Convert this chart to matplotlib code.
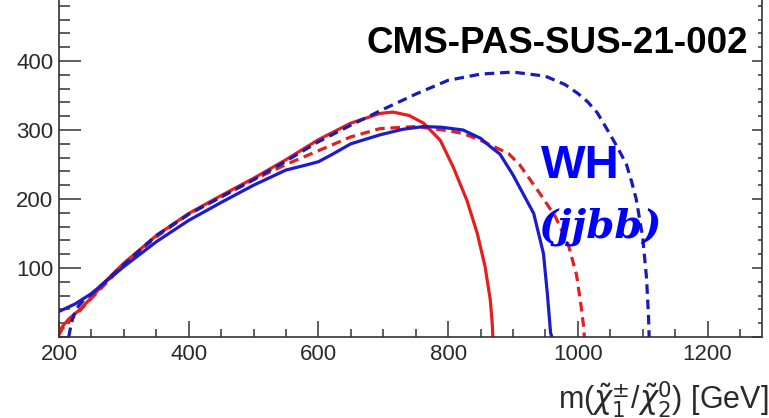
import matplotlib
matplotlib.use("Agg")
import matplotlib.pyplot as plt
from matplotlib.ticker import MultipleLocator

plt.rcParams['font.family'] = ['Liberation Sans', 'DejaVu Sans']
plt.rcParams['mathtext.fontset'] = 'dejavusans'

# contour points, m(chargino/neutralino) vs m(LSP)
red_solid_x = [200, 205, 215, 230, 250, 275, 300, 350, 400, 450, 500, 550, 600, 650,
               695, 715, 740, 762, 788, 808, 829, 845, 857, 865, 868, 869]
red_solid_y = [5, 15, 26, 38, 57, 84, 107, 147, 179, 205, 230, 257, 286, 310,
               324, 326, 321, 310, 285, 246, 198, 150, 102, 54, 20, 0]

red_dash_x = [200, 205, 215, 230, 250, 300, 350, 400, 450, 500, 550, 600, 650, 695,
              750, 800, 823, 850, 893, 910, 940, 965, 985, 998, 1005, 1009, 1010]
red_dash_y = [3, 12, 22, 36, 56, 105, 145, 178, 203, 228, 250, 270, 290, 302,
              305, 299, 295, 285, 266, 250, 210, 175, 135, 90, 45, 15, 0]

blue_solid_x = [200, 225, 250, 300, 350, 400, 450, 500, 550, 580, 600, 620, 650, 695,
                730, 762, 790, 823, 850, 865, 880, 900, 932, 947, 953, 958, 960]
blue_solid_y = [37, 48, 63, 102, 138, 169, 195, 220, 242, 249, 254, 264, 280, 293,
                301, 305, 304, 300, 288, 276, 265, 235, 179, 121, 63, 6, 0]

blue_dash_x = [215, 218, 222, 230, 240, 250, 300, 350, 400, 450, 500, 550, 600, 650,
               700, 750, 800, 850, 900, 950, 980, 1000, 1015, 1030, 1042, 1055, 1065,
               1075, 1083, 1090, 1100, 1106, 1109, 1110]
blue_dash_y = [0, 15, 30, 45, 55, 62, 105, 147, 178, 203, 228, 255, 283, 307,
               330, 352, 372, 381, 384, 378, 366, 353, 341, 325, 306, 285, 268,
               250, 225, 200, 145, 85, 30, 0]

W, H = 769, 418
fig = plt.figure(figsize=(W / 100, H / 100), dpi=100)
# axes frame in pixel terms: x 59..762, y 337 (0) up past the top edge (500)
ax = fig.add_axes([59 / W, (H - 337) / H, (762 - 59) / W, (337 + 8) / H])

red = '#e3201e'
blue = '#1c1cc8'
ax.plot(red_solid_x, red_solid_y, color=red, lw=2.3)
ax.plot(red_dash_x, red_dash_y, color=red, lw=2.3, dashes=(3, 1.8))
ax.plot(blue_solid_x, blue_solid_y, color=blue, lw=2.3)
ax.plot(blue_dash_x, blue_dash_y, color='#1a1ab4', lw=2.3, dashes=(3, 1.8))

ax.set_xlim(200, 1284)
ax.set_ylim(0, 500)
ax.xaxis.set_major_locator(MultipleLocator(200))
ax.xaxis.set_minor_locator(MultipleLocator(50))
ax.yaxis.set_major_locator(MultipleLocator(100))
ax.yaxis.set_minor_locator(MultipleLocator(20))
ax.set_yticks([100, 200, 300, 400, 500])

frame = '#333333'
for s in ax.spines.values():
    s.set_color(frame)
    s.set_linewidth(1.2)
ax.tick_params(axis='both', which='both', direction='in', colors=frame,
               labelcolor='#2a2a2a', labelsize=16, width=1.1, right=False, top=False)
ax.tick_params(axis='y', which='major', length=16, pad=4)
ax.tick_params(axis='y', which='minor', length=8)
ax.tick_params(axis='x', which='major', length=11.5, pad=5)
ax.tick_params(axis='x', which='minor', length=5.5)

# right side ticks are shorter
ax2 = ax.twinx()
ax2.set_ylim(0, 500)
ax2.yaxis.set_major_locator(MultipleLocator(100))
ax2.yaxis.set_minor_locator(MultipleLocator(20))
ax2.tick_params(axis='y', which='both', direction='in', colors=frame,
                labelright=False, width=1.1)
ax2.tick_params(axis='y', which='major', length=7.5)
ax2.tick_params(axis='y', which='minor', length=3)
for s in ax2.spines.values():
    s.set_visible(False)

fig.text(748 / W, 1 - 53 / H, 'CMS-PAS-SUS-21-002', ha='right', va='baseline',
         fontsize=26.5, fontweight='bold', color='black')
fig.text(541 / W, 1 - 178 / H, 'WH', ha='left', va='baseline',
         fontsize=34, fontweight='bold', color='#0000ff')
fig.text(539 / W, 1 - 238 / H, '(jjbb)', ha='left', va='baseline',
         fontsize=29, fontweight='bold', fontstyle='italic', color='#0000ff',
         family='DejaVu Serif')

fig.text(768 / W, 9 / H, r'm($\tilde{\chi}^{\pm}_{1}$/$\tilde{\chi}^{0}_{2}$) [GeV]',
         ha='right', va='baseline', fontsize=22, color='#2a2a2a')

fig.savefig('out.png', dpi=100)
